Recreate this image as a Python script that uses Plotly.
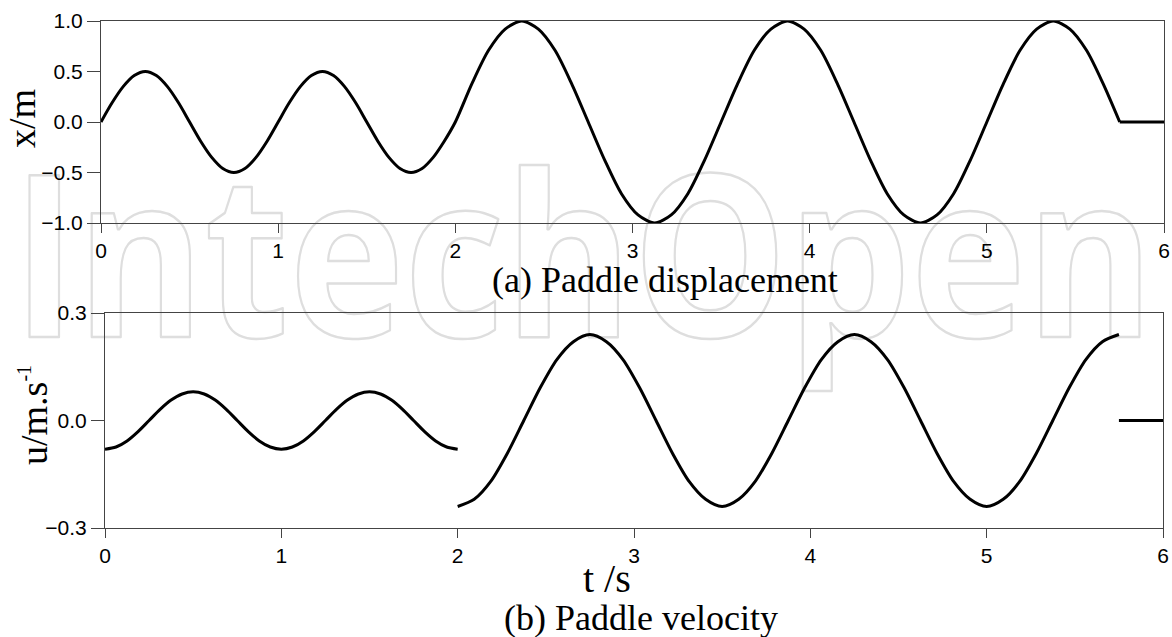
import base64
import plotly.graph_objects as go

# ---- data -------------------------------------------------------------
# Paddle displacement x (m): first wave group 0-2 s, second 2-5.75 s
t_disp = [0.0, 0.0625, 0.125, 0.1875, 0.25, 0.3125, 0.375, 0.4375,
          0.5, 0.5625, 0.625, 0.6875, 0.75, 0.8125, 0.875, 0.9375,
          1.0, 1.0625, 1.125, 1.1875, 1.25, 1.3125, 1.375, 1.4375,
          1.5, 1.5625, 1.625, 1.6875, 1.75, 1.8125, 1.875, 1.9375,
          2.0, 2.09375, 2.1875, 2.28125, 2.375, 2.46875, 2.5625, 2.65625,
          2.75, 2.84375, 2.9375, 3.03125, 3.125, 3.21875, 3.3125, 3.40625,
          3.5, 3.59375, 3.6875, 3.78125, 3.875, 3.96875, 4.0625, 4.15625,
          4.25, 4.34375, 4.4375, 4.53125, 4.625, 4.71875, 4.8125, 4.90625,
          5.0, 5.09375, 5.1875, 5.28125, 5.375, 5.46875, 5.5625, 5.65625,
          5.75]
x_disp = [0.0, 0.19, 0.35, 0.46, 0.5, 0.46, 0.35, 0.19,
          0.0, -0.19, -0.35, -0.46, -0.5, -0.46, -0.35, -0.19,
          0.0, 0.19, 0.35, 0.46, 0.5, 0.46, 0.35, 0.19,
          0.0, -0.19, -0.35, -0.46, -0.5, -0.46, -0.35, -0.19,
          0.0, 0.38, 0.71, 0.92, 1.0, 0.92, 0.71, 0.38,
          0.0, -0.38, -0.71, -0.92, -1.0, -0.92, -0.71, -0.38,
          0.0, 0.38, 0.71, 0.92, 1.0, 0.92, 0.71, 0.38,
          0.0, -0.38, -0.71, -0.92, -1.0, -0.92, -0.71, -0.38,
          0.0, 0.38, 0.71, 0.92, 1.0, 0.92, 0.71, 0.38,
          0.0]
t_disp_rest = [5.75, 6.0]
x_disp_rest = [0.0, 0.0]

# Paddle velocity u (m/s), three separate pieces
t_vel_a = [0.0, 0.0625, 0.125, 0.1875, 0.25, 0.3125, 0.375, 0.4375,
           0.5, 0.5625, 0.625, 0.6875, 0.75, 0.8125, 0.875, 0.9375,
           1.0, 1.0625, 1.125, 1.1875, 1.25, 1.3125, 1.375, 1.4375,
           1.5, 1.5625, 1.625, 1.6875, 1.75, 1.8125, 1.875, 1.9375, 2.0]
u_vel_a = [-0.08, -0.074, -0.057, -0.031, 0.0, 0.031, 0.057, 0.074,
           0.08, 0.074, 0.057, 0.031, 0.0, -0.031, -0.057, -0.074,
           -0.08, -0.074, -0.057, -0.031, 0.0, 0.031, 0.057, 0.074,
           0.08, 0.074, 0.057, 0.031, 0.0, -0.031, -0.057, -0.074, -0.08]
t_vel_b = [2.0, 2.09375, 2.1875, 2.28125, 2.375, 2.46875, 2.5625, 2.65625,
           2.75, 2.84375, 2.9375, 3.03125, 3.125, 3.21875, 3.3125, 3.40625,
           3.5, 3.59375, 3.6875, 3.78125, 3.875, 3.96875, 4.0625, 4.15625,
           4.25, 4.34375, 4.4375, 4.53125, 4.625, 4.71875, 4.8125, 4.90625,
           5.0, 5.09375, 5.1875, 5.28125, 5.375, 5.46875, 5.5625, 5.65625,
           5.75]
u_vel_b = [-0.24, -0.22, -0.17, -0.092, 0.0, 0.092, 0.17, 0.22,
           0.24, 0.22, 0.17, 0.092, 0.0, -0.092, -0.17, -0.22,
           -0.24, -0.22, -0.17, -0.092, 0.0, 0.092, 0.17, 0.22,
           0.24, 0.22, 0.17, 0.092, 0.0, -0.092, -0.17, -0.22,
           -0.24, -0.22, -0.17, -0.092, 0.0, 0.092, 0.17, 0.22,
           0.24]
t_vel_c = [5.75, 6.0]
u_vel_c = [0.0, 0.0]

x_ticks = [0, 1, 2, 3, 4, 5, 6]
disp_ticks = [-1.0, -0.5, 0.0, 0.5, 1.0]
vel_ticks = [-0.3, 0.0, 0.3]

# ---- figure -----------------------------------------------------------
W, H = 1172, 637
SERIF = "Liberation Serif, Times New Roman, serif"
SANS = "Liberation Sans, Arial, sans-serif"
AX = "#444444"


def px(v):
    return v / W


def py(v):
    return 1 - v / H


curve = dict(color="black", width=3)
smooth = dict(shape="spline", smoothing=0.8, **curve)

fig = go.Figure()
fig.add_trace(go.Scatter(x=t_disp, y=x_disp, mode="lines", line=smooth,
                         xaxis="x", yaxis="y"))
fig.add_trace(go.Scatter(x=t_disp_rest, y=x_disp_rest, mode="lines",
                         line=curve, xaxis="x", yaxis="y"))
fig.add_trace(go.Scatter(x=t_vel_a, y=u_vel_a, mode="lines", line=smooth,
                         xaxis="x2", yaxis="y2"))
fig.add_trace(go.Scatter(x=t_vel_b, y=u_vel_b, mode="lines", line=smooth,
                         xaxis="x2", yaxis="y2"))
fig.add_trace(go.Scatter(x=t_vel_c, y=u_vel_c, mode="lines",
                         line=curve, xaxis="x2", yaxis="y2"))

common = dict(showline=True, linecolor=AX, linewidth=1, mirror=True,
              ticks="outside", tickcolor=AX, tickwidth=1,
              showgrid=False, zeroline=False, automargin=False,
              tickfont=dict(family=SANS, size=21, color="black"))

xcommon = dict(common, range=[0, 6], tickvals=x_ticks, ticklen=9,
               ticklabelstandoff=0)

fig.update_layout(
    width=W, height=H,
    margin=dict(l=0, r=0, t=0, b=0),
    paper_bgcolor="white", plot_bgcolor="rgba(0,0,0,0)",
    showlegend=False,
    xaxis=dict(xcommon, domain=[px(101), px(1164)], anchor="y"),
    yaxis=dict(common, domain=[py(223), py(21)], anchor="x",
               range=[-1, 1], tickvals=disp_ticks, tickformat=".1f",
               ticklen=13),
    xaxis2=dict(xcommon, domain=[px(105), px(1163)], anchor="y2"),
    yaxis2=dict(common, domain=[py(528), py(313)], anchor="x2",
                range=[-0.3, 0.3], tickvals=vel_ticks, tickformat=".1f",
                ticklen=13),
)

ann = [
    dict(text="x/m", x=px(22), y=py(119), textangle=-90,
         font=dict(family=SERIF, size=38)),
    dict(text="u/m.s<sup><span style='font-size:20px'>-1</span></sup>",
         x=px(34), y=py(415), textangle=-90,
         font=dict(family=SERIF, size=38)),
    dict(text="(a) Paddle displacement", x=px(665), y=py(280),
         font=dict(family=SERIF, size=36)),
    dict(text="t /s", x=px(607), y=py(578),
         font=dict(family=SERIF, size=40)),
    dict(text="(b) Paddle velocity", x=px(641), y=py(618),
         font=dict(family=SERIF, size=36)),
]
for a in ann:
    a.update(xref="paper", yref="paper", showarrow=False,
             xanchor="center", yanchor="middle")
    a["font"]["color"] = "black"
fig.update_layout(annotations=ann)

# outlined publisher mark behind the plots
mark_svg = (
    f'<svg xmlns="http://www.w3.org/2000/svg" width="{W}" height="{H}" '
    f'viewBox="0 0 {W} {H}" preserveAspectRatio="none">'
    '<text x="12" y="337" textLength="1142" lengthAdjust="spacingAndGlyphs" '
    'font-family="Open Sans, Liberation Sans, sans-serif" font-weight="700" '
    'font-size="226" fill="none" stroke="#dedede" stroke-width="2.5" '
    'stroke-linejoin="round">IntechOpen</text></svg>'
)
fig.add_layout_image(
    source="data:image/svg+xml;base64," + base64.b64encode(mark_svg.encode()).decode(),
    xref="paper", yref="paper", x=0, y=1, sizex=1, sizey=1,
    xanchor="left", yanchor="top", sizing="stretch", layer="below",
)

fig.write_html("out.html")
